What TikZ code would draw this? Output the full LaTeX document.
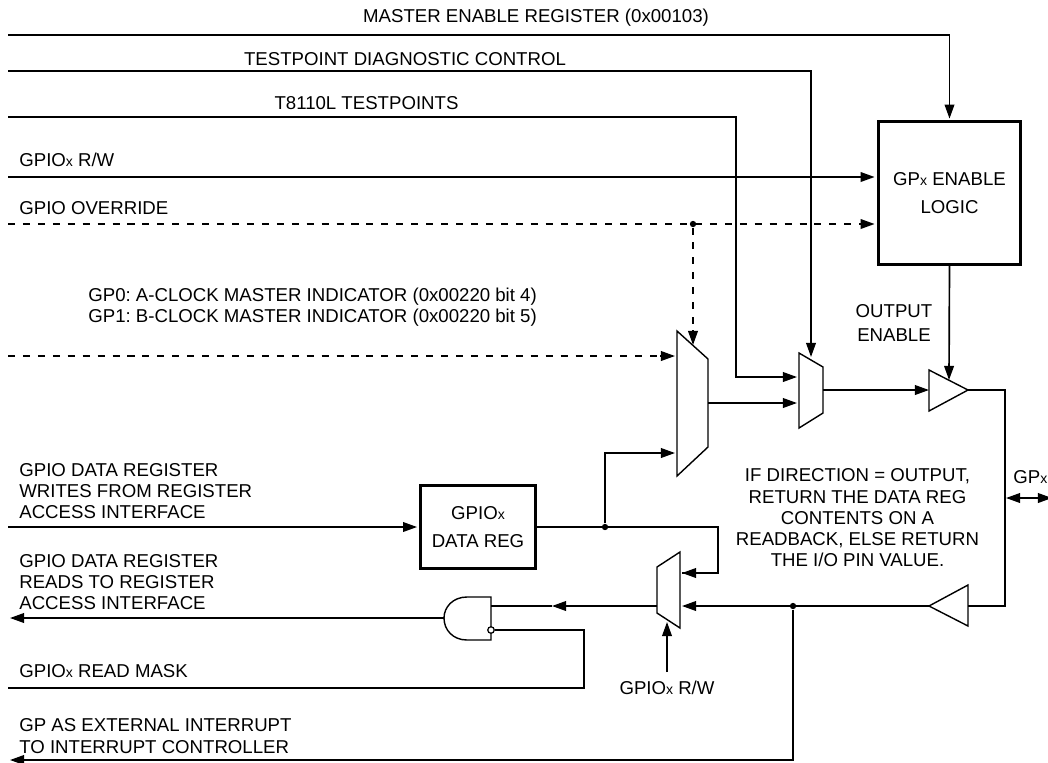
\documentclass[tikz,border=0pt]{standalone}
\usepackage{fontspec}
\setmainfont{Liberation Sans}
\usetikzlibrary{arrows.meta,positioning,calc}

\newcommand{\smx}{{\fontsize{8pt}{8pt}\selectfont x}}
\tikzset{
  wire/.style={line width=0.95pt},
  arrowwire/.style={wire,-{Triangle[length=8pt,width=5.5pt]}},
  dashwire/.style={wire,dash pattern=on 4pt off 4.5pt},
  thickbox/.style={draw,line width=1.9pt,inner sep=0pt,align=center},
  muxshape/.style={draw,line width=0.8pt,line join=miter},
  junction/.style={circle,fill,inner sep=0pt,minimum size=3.6pt},
  label/.style={inner sep=0pt,align=left,anchor=west},
  ctrlabel/.style={inner sep=0pt,align=center}
}

\begin{document}
\frenchspacing
\begin{tikzpicture}[x=0.02cm,y=-0.02cm,font=\fontsize{10.6pt}{12.1pt}\selectfont]
        \useasboundingbox (0,0) rectangle (1048,762);

        % the two boxes
        \node[thickbox,minimum width=143pt*0.5669,minimum height=143pt*0.5669] (logic) at (949.5,193) {GP\smx{} ENABLE\\[3.5pt]LOGIC};
        \node[thickbox,minimum width=115pt*0.5669,minimum height=83pt*0.5669] (datareg) at (478,527) {GPIO\smx\\[3.5pt]DATA REG};

        % the end points on the left
        \coordinate (mastera) at (8,35);
        \coordinate (testa) at (8,71);
        \coordinate (pointsa) at (8,117);
        \coordinate (rwa) at (8,177);
        \coordinate (overa) at (8,224);
        \coordinate (clocka) at (8,356);
        \coordinate (writea) at (8,527);
        \coordinate (reada) at (10,618);
        \coordinate (maska) at (8,688);
        \coordinate (irqa) at (10,760);

        % pins of the large mux, the small mux and the read mux
        \coordinate (bigtl) at (677,331);
        \coordinate (bigtr) at (708,359);
        \coordinate (bigbr) at (708,447);
        \coordinate (bigbl) at (677,476);
        \coordinate (bigout) at (708,403);
        \coordinate (smalltl) at (799,353);
        \coordinate (smalltr) at (823,367);
        \coordinate (smallbr) at (823,413);
        \coordinate (smallbl) at (799,428);
        \coordinate (smallout) at (823,390);
        \coordinate (readtr) at (680,552);
        \coordinate (readtl) at (657,567);
        \coordinate (readbl) at (657,613);
        \coordinate (readbr) at (680,628);
        \coordinate (readout) at (657,606);

        % the buffers
        \coordinate (drvtip) at (968,390);
        \coordinate (drvin) at (929,390);
        \coordinate (rettip) at (929,606);
        \coordinate (retin) at (968,606);
        \draw[muxshape] (929,370) -- (drvtip) -- (929,411) -- cycle;
        \draw[muxshape] (968,585) -- (rettip) -- (968,626) -- cycle;

        % the muxes
        \draw[muxshape] (bigtl) -- (bigtr) -- (bigbr) -- (bigbl) -- cycle;
        \draw[muxshape] (smalltl) -- (smalltr) -- (smallbr) -- (smallbl) -- cycle;
        \draw[muxshape] (readtr) -- (readtl) -- (readbl) -- (readbr) -- cycle;

        % the gate with its bubble
        \coordinate (gateout) at (444,618);
        \coordinate (gatein) at (491,606);
        \draw[muxshape] (491,597) -- (491,640) -- (467,640) .. controls (453,640) and (444,630) .. (gateout) .. controls (444,607) and (453,597) .. (467,597) -- cycle;
        \node[circle,draw,line width=0.7pt,fill=white,inner sep=0pt,minimum size=3.7pt] (bubble) at (491,630) {};

        % the lines from the top
        \draw[arrowwire] (mastera) -| ($(logic.north)+(0,-1.5)$);
        \draw[arrowwire] (testa) -| (811,357);
        \coordinate (pointsin) at (797,377);
        \draw[arrowwire] (pointsa) -- (736,117) |- (pointsin);
        \draw[arrowwire] (rwa) -- ($(logic.west |- rwa)+(-2,0)$);
        \draw[dashwire] (overa) -- (860,224);
        \draw[arrowwire] (860,224) -- ($(logic.west |- overa)+(-2,0)$);
        \node[junction] (overdot) at (693,224) {};
        \draw[dashwire] (overdot) -- (693,330);
        \draw[arrowwire] (693,330) -- (693,345);

        % the dashed clock line and the data path
        \coordinate (clockin) at (675,356);
        \draw[dashwire] (clocka) -- (660,356);
        \draw[arrowwire] (660,356) -- (clockin);
        \draw[arrowwire] (bigout) -- (797,403);
        \draw[arrowwire] (smallout) -- (drvin);
        \draw[arrowwire] (logic.south) -- (949,380);
        \draw[arrowwire] (writea) -- ($(datareg.west)+(-2,0)$);
        \node[junction] (datadot) at (605,527) {};
        \draw[wire] (datareg.east) -- (718,527) |- (682,573) coordinate (readin);
        \draw[arrowwire] (718,573) -- (readin);
        \draw[arrowwire] (datadot) |- (675,453);

        % the pad and the way back
        \coordinate (padin) at (1006,498);
        \coordinate (padout) at (1052,498);
        \draw[wire] (drvtip) -| (1005,606) -- (retin);
        \draw[wire,{Triangle[length=8pt,width=5.5pt]}-{Triangle[length=8pt,width=5.5pt]}] (padin) -- (padout);
        \coordinate (retend) at (682,606);
        \draw[arrowwire] (rettip) -- (retend);
        \node[junction] (retdot) at (793,606) {};
        \draw[arrowwire] (retdot) |- (irqa);

        % the read side
        \coordinate (readmid) at (552,606);
        \draw[arrowwire] (readout) -- (readmid);
        \draw[wire] (readmid) -- (gatein);
        \draw[arrowwire] (gateout) -- (reada);
        \draw[wire] (bubble) -- (584,630) |- (maska);
        \coordinate (rwb) at (667,672);
        \draw[arrowwire] (rwb) -- (667,622);

        % the labels
        \node[ctrlabel] (masterlabel) at (536,18) {MASTER ENABLE REGISTER (0x00103)};
        \node[ctrlabel] (testlabel) at (405,59) {TESTPOINT DIAGNOSTIC CONTROL};
        \node[ctrlabel] (pointslabel) at (366.5,103) {T8110L TESTPOINTS};
        \node[label] (rwlabel) at (19,160) {GPIO\smx{} R/W};
        \node[label] (overlabel) at (19,208) {GPIO OVERRIDE};
        \node[label] (clocklabel) at (88,307) {GP0: A-CLOCK MASTER INDICATOR (0x00220 bit 4)\\GP1: B-CLOCK MASTER INDICATOR (0x00220 bit 5)};
        \node[label] (writelabel) at (19,491) {GPIO DATA REGISTER\\WRITES FROM REGISTER\\ACCESS INTERFACE};
        \node[label] (readlabel) at (19,582) {GPIO DATA REGISTER\\READS TO REGISTER\\ACCESS INTERFACE};
        \node[label] (masklabel) at (19,671) {GPIO\smx{} READ MASK};
        \node[label] (irqlabel) at (19,736) {GP AS EXTERNAL INTERRUPT\\TO INTERRUPT CONTROLLER};
        \node[ctrlabel] (oelabel) at (894,323) {OUTPUT\\[1.5pt]ENABLE};
        \node[ctrlabel] (notelabel) at (857.5,518) {IF DIRECTION = OUTPUT,\\RETURN THE DATA REG\\CONTENTS ON A\\READBACK, ELSE RETURN\\THE I/O PIN VALUE.};
        \node[label] (padlabel) at (1013,477) {GP\smx};
        \node[ctrlabel] (rwblabel) at (667,688) {GPIO\smx{} R/W};
      \end{tikzpicture}
\end{document}
